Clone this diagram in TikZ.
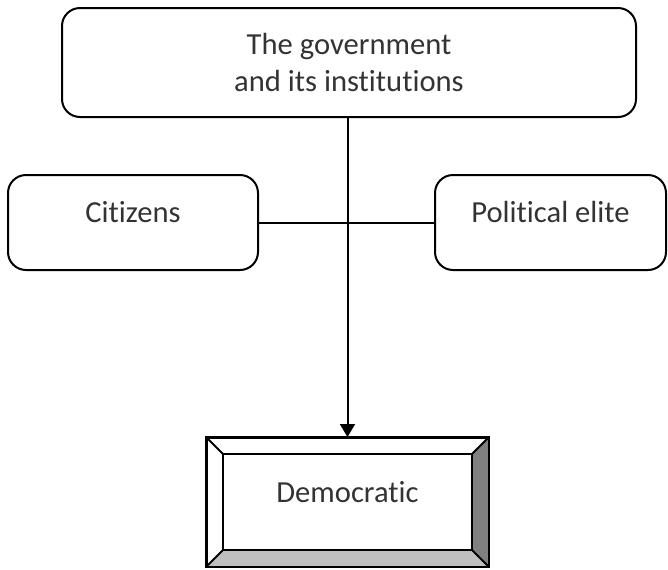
\documentclass[tikz,border=0pt]{standalone}
\usepackage{fontspec}
\setmainfont[Ligatures=CommonOff]{Carlito}
\usepackage{tikz}
\usetikzlibrary{arrows.meta, positioning, calc}

\begin{document}
\begin{tikzpicture}[x=0.5pt, y=-0.5pt, line width=1pt,
    every node/.style={font=\fontsize{15.3}{18.5}\selectfont, text=black!80},
    roundbox/.style={draw, rounded corners=9pt, align=center},
    bevelbox/.style={draw, inner sep=0pt, text height=6pt, text depth=6pt}]
    \useasboundingbox (0,0) rectangle (668,569);
    \node[roundbox,minimum width=287pt,minimum height=54.5pt] (gov) at (349,62.5) {The government\\and its institutions};
    \node[roundbox,minimum width=125pt,minimum height=47.5pt,text height=6pt,text depth=6pt] (cit) at (133,222.5) {Citizens};
    \node[roundbox,minimum width=115.5pt,minimum height=47.5pt,text height=6pt,text depth=6pt] (pol) at (550.5,222.5) {Political elite};
    \node[bevelbox,minimum width=140.5pt,minimum height=64pt] (dem) at (347.5,502) {Democratic};
    % bevelled frame
    \fill[gray!50] (dem.south west) -- (dem.south east) -- ($(dem.south east)+(-17,-17)$) -- ($(dem.south west)+(17,-17)$) -- cycle;
    \fill[gray] (dem.south east) -- (dem.north east) -- ($(dem.north east)+(-17,17)$) -- ($(dem.south east)+(-17,-17)$) -- cycle;
    \draw (dem.north west) rectangle (dem.south east);
    \draw ($(dem.north west)+(17,17)$) rectangle ($(dem.south east)+(-17,-17)$);
    \draw (dem.north west) -- ++(17,17);
    \draw (dem.north east) -- ++(-17,17);
    \draw (dem.south west) -- ++(17,-17);
    \draw (dem.south east) -- ++(-17,-17);
    % connectors
    \draw[-{Triangle[length=6.5pt,width=7.5pt]}] (dem.north |- gov.south) -- (dem.north);
    \draw (cit.east) -- (pol.west);
\end{tikzpicture}
\end{document}
